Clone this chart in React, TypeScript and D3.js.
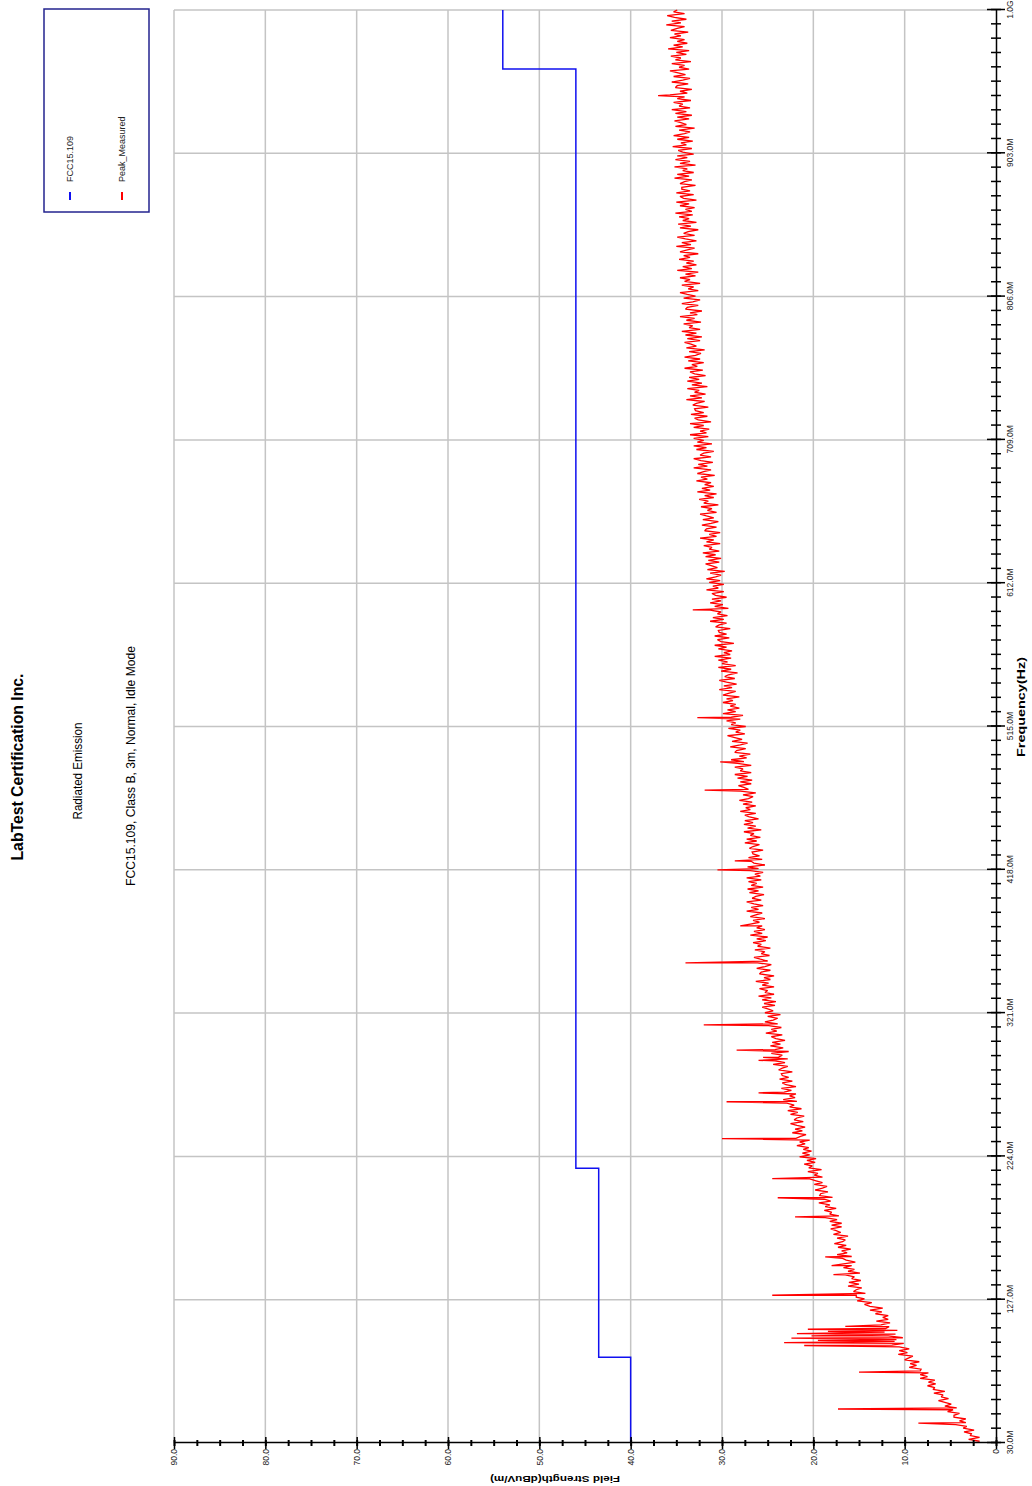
import React, { useRef, useEffect } from "react";
import * as d3 from "d3";

// frequency axis (MHz) and field strength axis (dBuV/m)
const freqTicks = [30, 127, 224, 321, 418, 515, 612, 709, 806, 903, 1000];
const freqLabels = ["30.0M", "127.0M", "224.0M", "321.0M", "418.0M", "515.0M", "612.0M", "709.0M", "806.0M", "903.0M", "1.0G"];
const levelTicks = [0, 10, 20, 30, 40, 50, 60, 70, 80, 90];
const levelLabels = ["0", "10.0", "20.0", "30.0", "40.0", "50.0", "60.0", "70.0", "80.0", "90.0"];

// FCC15.109 class B 3m limit line
const limitFreqs = [30, 88, 88, 216, 216, 960, 960, 1000];
const limitLevels = [40, 40, 43.5, 43.5, 46, 46, 54, 54];

// peak measured trace, one reading every 1.25 MHz from 30 MHz (one row = 50 MHz)
const peakStartMHz = 30;
const peakStepMHz = 1.25;
const peakLevels = [
    2.5, 1.8, 3.0, 1.8, 2.8, 2.7, 3.5, 2.4, 3.6, 3.2, 4.4, 3.3, 4.0, 3.3, 4.6, 4.6, 4.0, 5.3, 4.7, 4.3,
    5.6, 4.9, 5.6, 6.3, 5.2, 6.0, 5.8, 6.8, 5.6, 6.9, 6.7, 7.5, 6.6, 7.4, 6.7, 8.3, 7.5, 8.3, 7.4, 8.3,
    8.2, 9.5, 8.7, 9.4, 8.4, 10.0, 9.6, 9.1, 10.7, 9.7, 10.6, 9.5, 10.6, 11.4, 10.1, 11.1, 10.9, 10.2, 11.8, 11.0,
    12.2, 10.8, 12.1, 11.7, 12.6, 11.6, 13.1, 11.8, 12.4, 11.8, 13.2, 12.5, 13.8, 12.4, 13.8, 14.4, 13.6, 15.2, 14.4, 15.3,
    15.3, 14.3, 15.6, 15.3, 14.7, 16.2, 15.0, 16.1, 14.8, 15.8, 15.5, 16.5, 14.9, 16.2, 15.5, 16.7, 15.8, 16.7, 15.4, 16.4,
    16.8, 15.8, 17.4, 16.3, 16.9, 15.9, 17.3, 16.4, 17.7, 16.8, 16.5, 17.4, 16.2, 17.8, 17.0, 17.5, 18.1, 16.9, 18.0, 16.9,
    18.2, 17.4, 18.7, 17.2, 18.2, 18.0, 18.8, 17.5, 18.7, 18.2, 19.4, 18.1, 18.8, 17.9, 19.3, 19.2, 18.4, 19.8, 19.0, 18.5,
    19.9, 19.0, 19.7, 20.4, 19.0, 19.9, 19.5, 20.6, 19.1, 20.5, 20.1, 21.0, 19.8, 20.7, 19.7, 21.5, 20.4, 21.2, 20.2, 21.1,
    20.5, 21.8, 20.9, 21.5, 20.4, 21.9, 21.4, 20.8, 22.3, 21.2, 22.0, 20.9, 21.8, 22.5, 21.1, 22.1, 21.8, 21.0, 22.5, 21.7,
    22.8, 21.3, 22.6, 22.1, 22.9, 21.8, 23.3, 22.0, 22.6, 21.9, 23.2, 22.4, 23.5, 21.9, 23.0, 23.4, 22.3, 23.7, 22.7, 23.4,
    23.5, 22.3, 23.8, 23.4, 22.8, 24.4, 23.1, 24.2, 22.8, 23.8, 23.4, 24.6, 22.7, 24.2, 23.3, 24.7, 23.6, 24.5, 23.1, 24.1,
    24.6, 23.4, 25.2, 24.0, 24.6, 23.5, 24.9, 23.9, 25.3, 24.4, 23.9, 25.0, 23.6, 25.3, 24.4, 24.9, 25.6, 24.2, 25.4, 24.1,
    25.6, 24.6, 26.0, 24.3, 25.3, 25.0, 25.9, 24.3, 25.6, 24.9, 26.3, 24.7, 25.4, 24.3, 25.9, 25.7, 24.7, 26.2, 25.3, 24.6,
    26.1, 25.0, 25.8, 26.5, 24.8, 25.7, 25.3, 26.4, 24.7, 26.1, 25.7, 26.6, 25.2, 26.2, 25.0, 26.9, 25.6, 26.5, 25.3, 26.2,
    25.6, 26.9, 25.9, 26.6, 25.3, 26.9, 26.3, 25.6, 27.3, 26.0, 26.8, 25.5, 26.5, 27.3, 25.7, 26.7, 26.3, 25.4, 27.0, 26.0,
    27.2, 25.5, 26.8, 26.2, 27.1, 25.7, 27.3, 25.8, 26.4, 25.5, 26.9, 26.0, 27.2, 25.3, 26.5, 26.8, 25.6, 27.1, 25.9, 26.6,
    26.7, 25.5, 27.0, 26.6, 25.9, 27.5, 26.2, 27.3, 25.8, 26.9, 26.5, 27.6, 25.7, 27.2, 26.3, 27.6, 26.6, 27.5, 26.0, 27.0,
    27.5, 26.3, 28.0, 26.9, 27.4, 26.3, 27.7, 26.7, 28.1, 27.1, 26.6, 27.7, 26.3, 28.0, 27.1, 27.6, 28.2, 26.8, 28.0, 26.7,
    28.3, 27.2, 28.6, 26.8, 28.0, 27.7, 28.6, 26.8, 28.3, 27.6, 29.0, 27.3, 28.1, 26.9, 28.6, 28.4, 27.4, 29.1, 28.0, 27.2,
    28.9, 27.8, 28.6, 29.4, 27.5, 28.5, 28.0, 29.3, 27.4, 29.0, 28.5, 29.5, 28.0, 29.0, 27.7, 29.9, 28.5, 29.4, 28.1, 29.1,
    28.5, 29.9, 28.8, 29.5, 28.1, 29.9, 29.3, 28.5, 30.3, 28.9, 29.8, 28.4, 29.5, 30.3, 28.6, 29.7, 29.3, 28.3, 30.1, 29.0,
    30.4, 28.5, 30.0, 29.4, 30.4, 29.0, 30.8, 29.1, 29.8, 28.9, 30.4, 29.5, 30.8, 28.7, 30.1, 30.5, 29.2, 30.8, 29.5, 30.3,
    30.4, 29.1, 30.7, 30.3, 29.5, 31.3, 29.8, 31.0, 29.4, 30.5, 30.1, 31.3, 29.3, 30.8, 29.9, 31.3, 30.1, 31.1, 29.5, 30.7,
    31.1, 29.8, 31.7, 30.4, 31.0, 29.8, 31.4, 30.2, 31.7, 30.7, 30.1, 31.3, 29.7, 31.6, 30.5, 31.1, 31.8, 30.3, 31.5, 30.1,
    31.8, 30.7, 32.1, 30.3, 31.4, 31.1, 32.0, 30.2, 31.7, 30.9, 32.4, 30.6, 31.4, 30.2, 31.9, 31.7, 30.6, 32.2, 31.2, 30.4,
    32.1, 30.9, 31.7, 32.4, 30.6, 31.6, 31.1, 32.3, 30.4, 32.0, 31.5, 32.5, 30.9, 31.9, 30.6, 32.7, 31.3, 32.2, 30.9, 31.9,
    31.2, 32.8, 31.6, 32.3, 30.8, 32.7, 32.0, 31.2, 33.1, 31.6, 32.6, 31.0, 32.3, 33.1, 31.2, 32.4, 32.0, 30.9, 32.8, 31.7,
    33.1, 31.1, 32.7, 32.0, 33.1, 31.5, 33.5, 31.7, 32.4, 31.4, 33.1, 32.0, 33.5, 31.2, 32.6, 33.0, 31.6, 33.4, 32.0, 32.9,
    33.0, 31.5, 33.2, 32.8, 31.9, 33.9, 32.2, 33.5, 31.8, 33.0, 32.5, 33.8, 31.6, 33.3, 32.2, 33.8, 32.5, 33.6, 31.8, 33.0,
    33.5, 32.1, 34.1, 32.7, 33.3, 32.0, 33.7, 32.4, 34.1, 32.9, 32.3, 33.6, 31.9, 33.9, 32.8, 33.4, 34.1, 32.4, 33.8, 32.2,
    34.0, 32.8, 34.4, 32.4, 33.6, 33.2, 34.2, 32.3, 33.9, 33.0, 34.6, 32.7, 33.5, 32.2, 34.0, 33.8, 32.6, 34.4, 33.2, 32.4,
    34.2, 32.9, 33.8, 34.6, 32.6, 33.7, 33.1, 34.4, 32.4, 34.1, 33.5, 34.6, 32.9, 34.0, 32.6, 34.9, 33.3, 34.3, 32.8, 33.9,
    33.1, 34.7, 33.5, 34.2, 32.6, 34.6, 33.9, 33.0, 35.0, 33.4, 34.4, 32.8, 34.0, 34.9, 33.0, 34.2, 33.7, 32.6, 34.6, 33.4,
    34.8, 32.8, 34.3, 33.6, 34.7, 33.2, 35.1, 33.3, 34.0, 33.0, 34.6, 33.6, 35.0, 32.8, 34.2, 34.6, 33.1, 35.0, 33.5, 34.4,
    34.4, 32.9, 34.6, 34.1, 33.3, 35.2, 33.6, 34.9, 33.1, 34.3, 33.8, 35.2, 32.9, 34.6, 33.5, 35.1, 33.8, 34.9, 33.1, 34.3,
    34.8, 33.3, 35.4, 33.9, 34.5, 33.2, 34.9, 33.6, 35.3, 34.1, 33.5, 34.7, 33.0, 35.1, 33.9, 34.5, 35.2, 33.6, 34.9, 33.3,
    35.1, 33.9, 35.5, 33.5, 34.7, 34.3, 35.3, 33.4, 34.9, 34.1, 35.7, 33.8, 34.6, 33.3, 35.1, 34.9, 33.7, 35.5, 34.3, 33.5,
    35.3, 34.0, 34.8, 35.7, 33.6, 34.7, 34.1, 35.5, 33.4, 35.1, 34.5, 35.6, 33.9, 35.0, 33.6, 35.9, 34.3, 35.3, 33.8, 34.9,
    34.1, 35.7, 34.5, 35.2, 33.7, 35.6, 34.9, 34.1, 36.1, 34.5, 35.5, 33.9, 35.2, 36.0, 34.1, 35.3, 34.9,
];

// narrow peaks standing out of the noise floor
const spikeFreqs = [43.5, 53, 78, 96, 98, 99.5, 101, 102.5, 104, 105.5, 107, 109, 130, 144, 150, 156, 183, 196, 209, 236, 261, 267, 289, 291, 296, 313, 355, 380, 418, 424, 472, 491, 521, 594, 942];
const spikeLevels = [8.5, 17.3, 15.0, 21.0, 23.2, 19.5, 22.4, 20.2, 21.8, 18.4, 20.6, 16.5, 24.5, 17.8, 18.0, 18.7, 22.0, 23.9, 24.5, 30.0, 29.5, 26.0, 26.0, 25.5, 28.4, 32.0, 34.0, 28.0, 30.5, 28.6, 31.9, 30.2, 32.7, 33.2, 37.0];

const FONT = "'Liberation Sans', Arial, sans-serif";

function App() {
    const ref = useRef<SVGSVGElement>(null);

    useEffect(() => {
        draw();
    }, []);

    const draw = () => {
        const svg = d3.select(ref.current);
        svg.selectAll("*").remove();

        // the chart is laid out landscape and turned a quarter to the left
        let pageHeight = 1486;
        let left = 43, right = 1476, top = 174, bottom = 996;

        let x = d3.scaleLinear().domain([30, 1000]).range([left, right]);
        let y = d3.scaleLinear().domain([0, 90]).range([bottom, top]);

        let g = svg.append("g")
            .attr("transform", "translate(0," + pageHeight + ") rotate(-90)")
            .attr("font-family", FONT);

        // titles
        g.append("text").text("LabTest  Certification Inc.")
            .attr("x", 719).attr("y", 23).attr("text-anchor", "middle")
            .attr("font-size", 17).attr("font-weight", "bold")
            .attr("textLength", 187).attr("lengthAdjust", "spacingAndGlyphs");
        g.append("text").text("Radiated Emission")
            .attr("x", 715).attr("y", 82).attr("text-anchor", "middle")
            .attr("font-size", 13)
            .attr("textLength", 97).attr("lengthAdjust", "spacingAndGlyphs");
        g.append("text").text("FCC15.109, Class B, 3m, Normal, Idle Mode")
            .attr("x", 720).attr("y", 135).attr("text-anchor", "middle")
            .attr("font-size", 13)
            .attr("textLength", 240).attr("lengthAdjust", "spacingAndGlyphs");

        // grid
        g.append("g").selectAll("line").data(levelTicks.slice(1)).enter().append("line")
            .attr("x1", left).attr("x2", right)
            .attr("y1", (d) => y(d)).attr("y2", (d) => y(d))
            .attr("stroke", "#c4c4c4").attr("stroke-width", 1.5);
        g.append("g").selectAll("line").data(freqTicks.slice(1)).enter().append("line")
            .attr("x1", (d) => x(d)).attr("x2", (d) => x(d))
            .attr("y1", top).attr("y2", bottom)
            .attr("stroke", "#c4c4c4").attr("stroke-width", 1.5);

        // limit line
        let line = d3.line<number>()
            .x((d, i) => x(limitFreqs[i]))
            .y((d) => y(d));
        g.append("path")
            .attr("d", line(limitLevels))
            .attr("fill", "none").attr("stroke", "#1010f0").attr("stroke-width", 1.5);

        // peak trace
        let points: [number, number][] = peakLevels.map((v, i) => [peakStartMHz + i * peakStepMHz, v]);
        spikeFreqs.forEach((f, i) => points.push([f, spikeLevels[i]]));
        points.sort((a, b) => a[0] - b[0]);
        let trace = d3.line<[number, number]>()
            .x((d) => x(d[0]))
            .y((d) => y(d[1]));
        g.append("path")
            .attr("d", trace(points))
            .attr("fill", "none").attr("stroke", "#ff0000").attr("stroke-width", 1.3)
            .attr("stroke-linejoin", "miter").attr("stroke-miterlimit", 2);

        // frequency axis
        let minor = d3.range(0, 101).map((i) => 30 + i * 9.7);
        g.append("g")
            .attr("transform", "translate(0," + bottom + ")")
            .call(d3.axisBottom(x).tickValues(minor).tickFormat(() => "").tickSizeOuter(0))
            .call((a) => a.select(".domain").remove())
            .call((a) => a.selectAll(".tick line").attr("y1", -5).attr("y2", 5).attr("stroke-width", 1.5));
        let xAxis = g.append("g")
            .attr("transform", "translate(0," + bottom + ")")
            .call(d3.axisBottom(x).tickValues(freqTicks).tickFormat((d, i) => freqLabels[i]).tickSizeOuter(0));
        xAxis.select(".domain").attr("stroke-width", 1.5);
        xAxis.selectAll(".tick line").attr("y1", -9).attr("y2", 9).attr("stroke-width", 1.5);
        xAxis.selectAll("text").attr("y", 11).attr("dy", "0.71em")
            .attr("font-size", 8.5).attr("font-family", FONT).attr("fill", "#222");

        // field strength axis
        let minorY = d3.range(0, 37).map((i) => i * 2.5);
        g.append("g")
            .attr("transform", "translate(" + left + ",0)")
            .call(d3.axisLeft(y).tickValues(minorY).tickFormat(() => "").tickSizeOuter(0))
            .call((a) => a.select(".domain").remove())
            .call((a) => a.selectAll(".tick line").attr("x1", -3).attr("x2", 3).attr("stroke-width", 2));
        let yAxis = g.append("g")
            .attr("transform", "translate(" + left + ",0)")
            .call(d3.axisLeft(y).tickValues(levelTicks).tickFormat((d, i) => levelLabels[i]).tickSizeOuter(0));
        yAxis.select(".domain").attr("stroke-width", 1.5);
        yAxis.selectAll(".tick line").attr("x1", -6).attr("x2", 6).attr("stroke-width", 1.5);
        yAxis.selectAll("text").attr("x", -6).attr("dy", "0.32em")
            .attr("font-size", 8.5).attr("font-family", FONT).attr("fill", "#222");

        // axis titles
        g.append("text").text("Frequency(Hz)")
            .attr("x", 779).attr("y", 1025).attr("text-anchor", "middle")
            .attr("font-size", 11).attr("font-weight", "bold")
            .attr("textLength", 100).attr("lengthAdjust", "spacingAndGlyphs");
        g.append("text").text("Field Strength(dBuV/m)")
            .attr("transform", "translate(10,555) rotate(-90)")
            .attr("text-anchor", "middle")
            .attr("font-size", 9.5).attr("font-weight", "bold")
            .attr("textLength", 130).attr("lengthAdjust", "spacingAndGlyphs");

        // legend
        let legend = g.append("g");
        legend.append("rect")
            .attr("x", 1274).attr("y", 44).attr("width", 203).attr("height", 105)
            .attr("fill", "none").attr("stroke", "#23238f").attr("stroke-width", 1.5);
        let items = [["FCC15.109", "#1010f0", 70], ["Peak_Measured", "#ff0000", 122]];
        items.forEach(([name, color, ly]) => {
            legend.append("line")
                .attr("x1", 1286).attr("x2", 1294).attr("y1", ly).attr("y2", ly)
                .attr("stroke", color).attr("stroke-width", 2);
            legend.append("text").text(name as string)
                .attr("x", 1304).attr("y", (ly as number) + 3)
                .attr("font-size", 9).attr("fill", "#222");
        });
    };

    return (
        <div className="chart">
            <svg ref={ref} width={1032} height={1486}
                style={{ position: "absolute", left: 0, top: 0, background: "#fff" }}></svg>
        </div>
    );
}

export default App;
